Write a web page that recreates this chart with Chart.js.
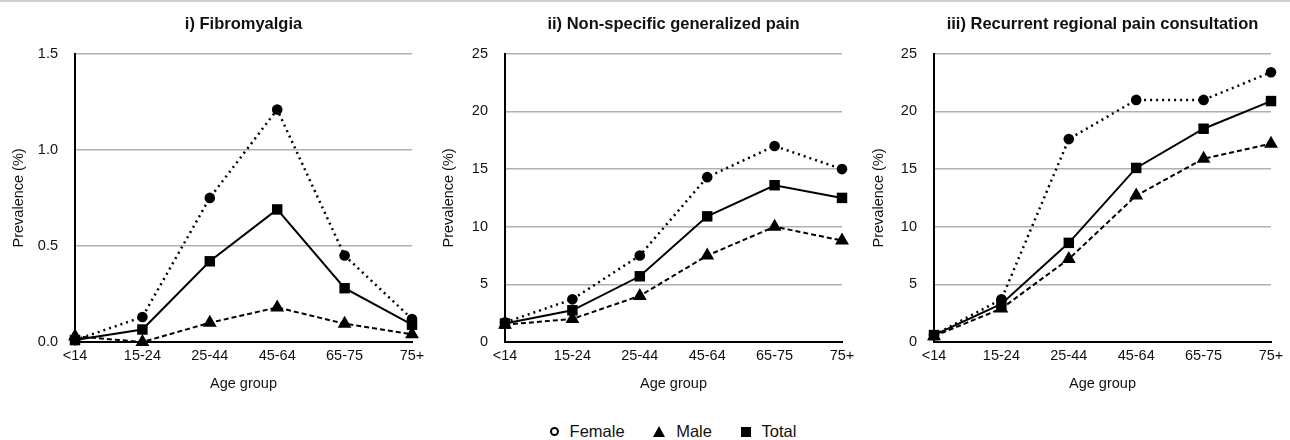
<!DOCTYPE html>
<html>
<head>
<meta charset="utf-8">
<script src="https://cdn.jsdelivr.net/npm/chart.js@4"></script>
<style>
  body { margin: 0; background: #fff; font-family: "Liberation Sans", Arial, sans-serif; }
  #wrap { position: relative; width: 1290px; height: 440px; border-top: 2px solid #d0d0d0; box-sizing: border-box; }
  canvas { position: absolute; top: 0; }
  #legend { position: absolute; top: 419px; left: 28px; width: 1290px; text-align: center; font-size: 16.5px; color: #111; }
  #legend span.item { display: inline-block; margin: 0 12px; vertical-align: middle; }
  .mk { display: inline-block; vertical-align: middle; margin-right: 11px; position: relative; top: -1px; }
  .circle { width: 5px; height: 5px; border: 2.5px solid #000; border-radius: 50%; }
  .tri { width: 0; height: 0; border-left: 6px solid transparent; border-right: 6px solid transparent; border-bottom: 11px solid #000; }
  .sq { width: 10px; height: 10px; background: #000; }
</style>
</head>
<body>
<div id="wrap">
  <canvas id="c1" width="430" height="408" style="left:0px"></canvas>
  <canvas id="c2" width="430" height="408" style="left:430px"></canvas>
  <canvas id="c3" width="430" height="408" style="left:860px"></canvas>
  <div id="legend">
    <span class="item"><span class="mk circle"></span>Female</span>
    <span class="item"><span class="mk tri"></span>Male</span>
    <span class="item"><span class="mk sq"></span>Total</span>
  </div>
</div>
<script>
// dados
const ageGroups = ['<14', '15-24', '25-44', '45-64', '65-75', '75+'];

const fibroFemale = [0.01, 0.13, 0.75, 1.21, 0.45, 0.12];
const fibroMale   = [0.03, 0.00, 0.10, 0.18, 0.095, 0.04];
const fibroTotal  = [0.01, 0.065, 0.42, 0.69, 0.28, 0.09];

const generalFemale = [1.7, 3.7, 7.5, 14.3, 17.0, 15.0];
const generalMale   = [1.5, 2.0, 4.0, 7.5, 10.0, 8.8];
const generalTotal  = [1.6, 2.75, 5.7, 10.9, 13.6, 12.5];

const regionalFemale = [0.6, 3.7, 17.6, 21.0, 21.0, 23.4];
const regionalMale   = [0.5, 2.9, 7.2, 12.7, 15.9, 17.2];
const regionalTotal  = [0.6, 3.3, 8.6, 15.1, 18.5, 20.9];

const font = "'Liberation Sans', Arial, sans-serif";
Chart.defaults.font.family = font;
Chart.defaults.color = '#111';

function series(label, data, style, radius, dash, width) {
  return {
    label, data,
    borderColor: '#000',
    backgroundColor: '#000',
    borderWidth: width,
    borderDash: dash,
    pointStyle: style,
    pointRadius: radius,
    pointHoverRadius: radius,
    pointBorderWidth: 0,
    tension: 0,
    clip: false
  };
}

function makeChart(id, title, yMax, yStep, decimals, female, male, total, axisWidth) {
  new Chart(document.getElementById(id), {
    type: 'line',
    data: {
      labels: ageGroups,
      datasets: [
        series('Female', female, 'circle', 5.3, [2, 4], 2.5),
        series('Male', male, 'triangle', 8, [5, 3], 2),
        series('Total', total, 'rect', 7.4, [], 2)
      ]
    },
    options: {
      responsive: false,
      animation: false,
      devicePixelRatio: 1,
      layout: { padding: { left: 0, right: 430 - axisWidth - 337, top: 0, bottom: 0 } },
      plugins: {
        legend: { display: false },
        tooltip: { enabled: false },
        title: {
          display: true,
          text: title,
          fullSize: false,
          color: '#111',
          font: { size: 16.5, weight: 'bold' },
          padding: { top: 13, bottom: 19 }
        }
      },
      scales: {
        x: {
          offset: false,
          grid: { display: false, drawTicks: false },
          border: { color: '#000', width: 2 },
          ticks: { font: { size: 14.5 }, padding: 5, maxRotation: 0 },
          title: { display: true, text: 'Age group', font: { size: 14.5 }, padding: { top: 0, bottom: 17 } },
          afterFit: s => { s.height = 68; }
        },
        y: {
          min: 0,
          max: yMax,
          grid: {
            drawTicks: false,
            color: c => c.tick && c.tick.value === 0 ? 'rgba(0,0,0,0)' : '#b0b0b0',
            lineWidth: 1.5
          },
          border: { color: '#000', width: 2 },
          ticks: { stepSize: yStep, font: { size: 14.5 }, padding: 17, callback: v => v.toFixed(decimals) },
          title: { display: true, text: 'Prevalence (%)', font: { size: 14.5 }, padding: { top: 10, bottom: 0 } },
          afterFit: s => { s.width = axisWidth; }
        }
      }
    }
  });
}

makeChart('c1', 'i) Fibromyalgia', 1.5, 0.5, 1, fibroFemale, fibroMale, fibroTotal, 75);
makeChart('c2', 'ii) Non-specific generalized pain', 25, 5, 0, generalFemale, generalMale, generalTotal, 75);
makeChart('c3', 'iii) Recurrent regional pain consultation', 25, 5, 0, regionalFemale, regionalMale, regionalTotal, 74);
</script>
</body>
</html>
